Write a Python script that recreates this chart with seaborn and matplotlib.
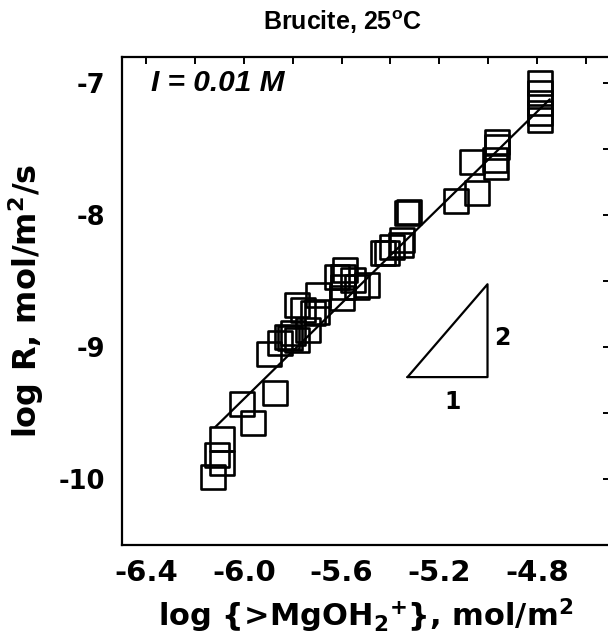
import numpy as np
import pandas as pd
import matplotlib
matplotlib.use("Agg")
import matplotlib.pyplot as plt
import seaborn as sns

# ---- data ----
log_mgoh2 = [-6.126, -6.110, -6.089, -6.089, -5.962, -6.007, -5.872, -5.897,
             -5.852, -5.811, -5.799, -5.782, -5.737, -5.823, -5.782, -5.758,
             -5.700, -5.696, -5.717, -5.598, -5.594, -5.537, -5.586, -5.594,
             -5.553, -5.496, -5.619, -5.430, -5.414, -5.393, -5.357, -5.353,
             -5.332, -5.324, -5.132, -5.046, -5.066, -4.972, -4.968, -4.964,
             -4.964, -4.788, -4.788, -4.788, -4.788, -4.788]
log_rate = [-9.985, -9.818, -9.879, -9.697, -9.576, -9.432, -9.348, -9.053,
            -8.970, -8.932, -8.894, -8.947, -8.871, -8.924, -8.682, -8.720,
            -8.735, -8.606, -8.742, -8.629, -8.545, -8.545, -8.417, -8.470,
            -8.492, -8.530, -8.470, -8.288, -8.288, -8.242, -8.227, -8.189,
            -7.985, -7.977, -7.894, -7.833, -7.598, -7.583, -7.636, -7.447,
            -7.485, -7.000, -7.076, -7.152, -7.227, -7.280]

fit_x = [-6.118, -4.747]
fit_y = [-9.606, -7.121]

tri_x = [-5.330, -5.002, -5.002, -5.330]
tri_y = [-9.227, -9.227, -8.523, -9.227]

x_ticks = [-6.4, -6.2, -6.0, -5.8, -5.6, -5.4, -5.2, -5.0, -4.8, -4.6]
x_tick_labels = ["-6.4", "", "-6.0", "", "-5.6", "", "-5.2", "", "-4.8", ""]
y_ticks = [-10.0, -9.5, -9.0, -8.5, -8.0, -7.5, -7.0]
y_tick_labels = ["-10", "", "-9", "", "-8", "", "-7"]

df = pd.DataFrame({"x": log_mgoh2, "y": log_rate})

sns.set_style("white")
plt.rcParams.update({
    "text.color": "black", "axes.labelcolor": "black",
    "xtick.color": "black", "ytick.color": "black",
    "mathtext.fontset": "dejavusans",
})

fig = plt.figure(figsize=(6.08, 6.38), dpi=100)
ax = fig.add_axes([122 / 608, (638 - 545) / 638, (610 - 122) / 608, (545 - 57) / 638])

sns.scatterplot(data=df, x="x", y="y", ax=ax, marker="s", s=300,
                facecolor="none", edgecolor="black", linewidth=1.9, legend=False)
sns.lineplot(x=fit_x, y=fit_y, ax=ax, color="black", lw=1.6, sort=False)
ax.plot(tri_x, tri_y, color="black", lw=1.6)

ax.set_xlim(-6.5, -4.5)
ax.set_ylim(-10.5, -6.8)
ax.set_xticks(x_ticks)
ax.set_xticklabels(x_tick_labels)
ax.set_yticks(y_ticks)
ax.set_yticklabels(y_tick_labels)

for lab in ax.get_xticklabels():
    lab.set_fontfamily("DejaVu Sans")
    lab.set_fontweight("bold")
    lab.set_fontsize(21)
    lab.set_color("black")
for lab in ax.get_yticklabels():
    lab.set_fontfamily("DejaVu Sans")
    lab.set_fontweight("bold")
    lab.set_fontsize(18.5)
    lab.set_color("black")

ax.tick_params(direction="in", length=5, width=1.4, top=True, right=True,
               pad=10, colors="black")
ax.tick_params(axis="y", pad=12)
for sp in ax.spines.values():
    sp.set_linewidth(1.6)
    sp.set_color("black")

ax.set_xlabel(r"log {>MgOH$_\mathbf{2}$$^\mathbf{+}$}, mol/m$^\mathbf{2}$",
              fontfamily="DejaVu Sans", fontweight="bold", fontsize=22,
              labelpad=7, color="black")
ax.set_ylabel(r"log R, mol/m$^\mathbf{2}$/s",
              fontfamily="DejaVu Sans", fontweight="bold", fontsize=23,
              labelpad=9, color="black")

ax.text(-6.38, -7.0, "I = 0.01 M", fontfamily="Liberation Sans", fontweight="bold",
        fontstyle="italic", fontsize=21.5, ha="left", va="center", color="black")
ax.text(-5.146, -9.417, "1", fontfamily="DejaVu Sans", fontweight="bold",
        fontsize=17, ha="center", va="center", color="black")
ax.text(-4.941, -8.93, "2", fontfamily="DejaVu Sans", fontweight="bold",
        fontsize=17, ha="center", va="center", color="black")

fig.text(342 / 608, 1 - 22 / 638, r"Brucite, 25$^{\mathregular{o}}$C",
         fontfamily="Liberation Sans", fontweight="bold", fontsize=18,
         ha="center", va="center", color="black")

fig.savefig("out.png", dpi=100)
